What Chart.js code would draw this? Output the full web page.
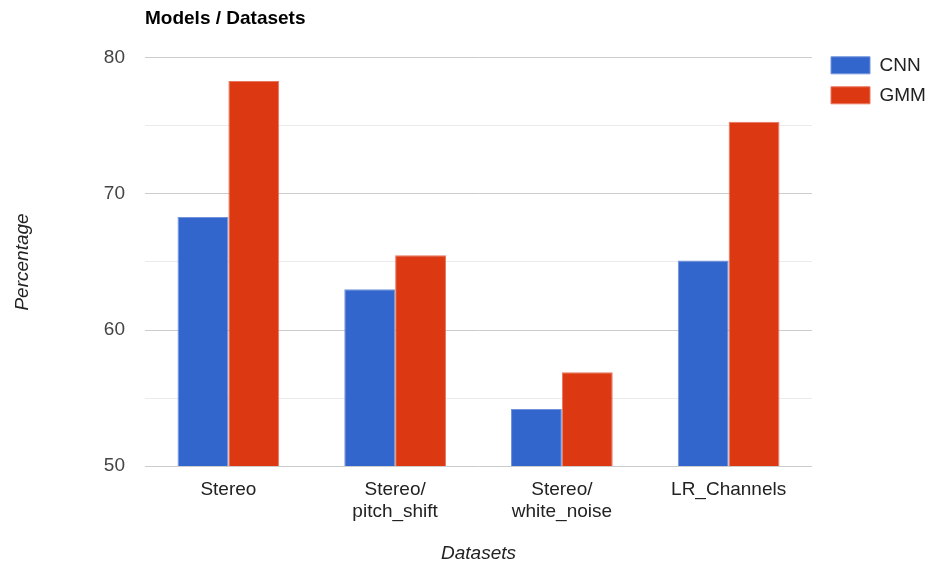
<!DOCTYPE html>
<html>
<head>
<meta charset="utf-8">
<script src="https://cdn.jsdelivr.net/npm/chart.js@4"></script>
<style>
  html, body { margin: 0; padding: 0; background: #fff; }
  #wrap { width: 927px; height: 565px; }
</style>
</head>
<body>
<div id="wrap"><canvas id="graficaModelos"></canvas></div>
<script>

const categorias = [['Stereo'], ['Stereo/', 'pitch_shift'], ['Stereo/', 'white_noise'], ['LR_Channels']];
const valoresCNN = [68.3, 63.0, 54.2, 65.1];
const valoresGMM = [78.3, 65.5, 56.9, 75.3];
const ticksY = [50, 60, 70, 80];

const fuente = "Arial, 'Liberation Sans', sans-serif";

const ctx = document.getElementById('graficaModelos');
const grafica = new Chart(ctx, {
    type: 'bar',
    data: {
        labels: categorias,
        datasets: [{
            label: 'CNN',
            data: valoresCNN,
            backgroundColor: '#3366cc',
            borderColor: '#7193dc',
            borderWidth: 1
        }, {
            label: 'GMM',
            data: valoresGMM,
            backgroundColor: '#dc3912',
            borderColor: '#e8775d',
            borderWidth: 1
        }]
    },
    options: {
        responsive: true,
        maintainAspectRatio: false,
        animation: false,
        devicePixelRatio: 1,
        datasets: {
            bar: { categoryPercentage: 0.61, barPercentage: 1 }
        },
        layout: { padding: { left: 0, right: 0, top: 0, bottom: 0 } },
        plugins: {
            title: {
                display: true,
                text: 'Models / Datasets',
                align: 'start',
                fullSize: false,
                color: '#000',
                font: { family: fuente, size: 19, weight: 'bold' },
                padding: { top: 7, bottom: 28 }
            },
            legend: {
                position: 'right',
                align: 'start',
                maxWidth: 107,
                title: {
                    display: true,
                    text: ' ',
                    font: { family: fuente, size: 19 },
                    padding: { top: 22, bottom: 0 }
                },
                labels: {
                    boxWidth: 39,
                    boxHeight: 17,
                    padding: 11,
                    color: '#222',
                    font: { family: fuente, size: 19 }
                }
            },
            tooltip: { enabled: false }
        },
        scales: {
            x: {
                grid: { display: false },
                border: { display: false },
                ticks: {
                    color: '#222',
                    padding: 5,
                    maxRotation: 0,
                    autoSkip: false,
                    font: { family: fuente, size: 19, lineHeight: 1.16 }
                },
                title: {
                    display: true,
                    text: 'Datasets',
                    color: '#222',
                    font: { family: fuente, size: 19, style: 'italic' },
                    padding: { top: 14, bottom: 0 }
                }
            },
            y: {
                min: 50,
                max: 80,
                afterFit: function (escala) { escala.width = 145; },
                grid: {
                    drawTicks: false,
                    color: function (c) {
                        return ticksY.includes(c.tick.value) ? '#cccccc' : '#ebebeb';
                    }
                },
                border: { display: false },
                ticks: {
                    stepSize: 5,
                    padding: 20,
                    color: '#444',
                    font: { family: fuente, size: 19 },
                    callback: function (v) { return ticksY.includes(v) ? v : ''; }
                },
                title: {
                    display: true,
                    text: 'Percentage',
                    color: '#222',
                    font: { family: fuente, size: 19, style: 'italic' },
                    padding: { top: 11, bottom: 0 }
                }
            },
            relleno: {
                type: 'linear',
                position: 'right',
                afterFit: function (escala) { escala.width = 8; },
                grid: { display: false },
                border: { display: false },
                ticks: { display: false }
            }
        }
    }
});

</script>
</body>
</html>
